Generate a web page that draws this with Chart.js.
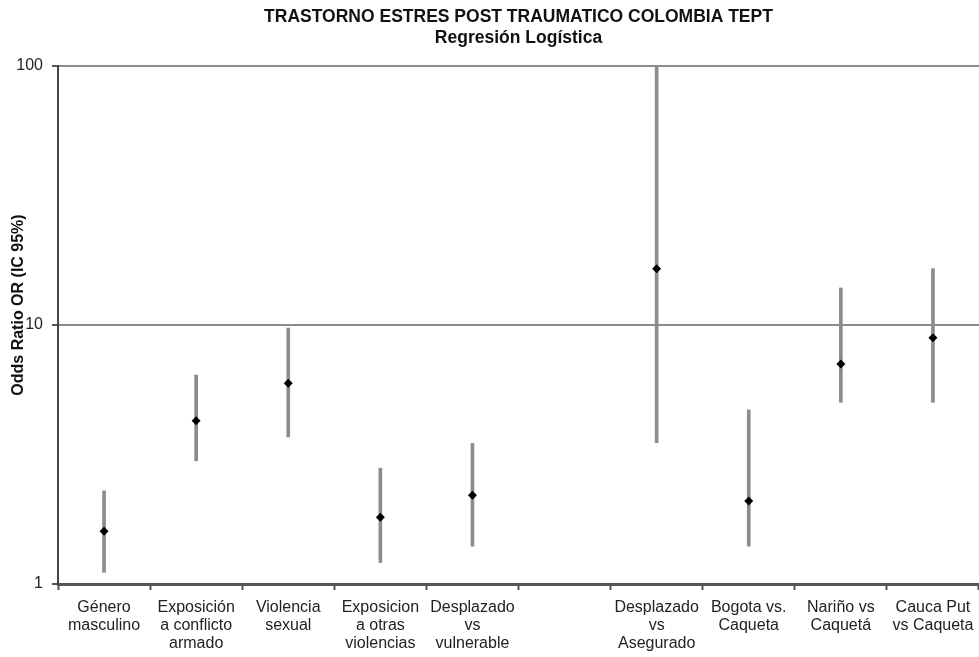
<!DOCTYPE html>
<html>
<head>
<meta charset="utf-8">
<script src="https://cdn.jsdelivr.net/npm/chart.js@4.4.1/dist/chart.umd.min.js"></script>
<style>
  html, body { margin: 0; padding: 0; background: #fff; overflow: hidden; }
  #wrap { width: 979px; height: 657px; }
  canvas { display: block; }
</style>
</head>
<body>
<div id="wrap"><canvas id="c" width="979" height="657"></canvas></div>
<script>
const categories = [
  ["Género", "masculino"],
  ["Exposición", "a conflicto", "armado"],
  ["Violencia", "sexual"],
  ["Exposicion", "a otras", "violencias"],
  ["Desplazado", "vs", "vulnerable"],
  "",
  ["Desplazado", "vs", "Asegurado"],
  ["Bogota vs.", "Caqueta"],
  ["Nariño vs", "Caquetá"],
  ["Cauca Put", "vs Caqueta"]
];
const oddsRatio = [1.60, 4.27, 5.96, 1.81, 2.20, null, 16.5, 2.09, 7.07, 8.93];
const ciLower   = [1.11, 2.99, 3.70, 1.21, 1.40, null, 3.51, 1.40, 5.03, 5.03];
const ciUpper   = [2.29, 6.41, 9.73, 2.80, 3.49, null, 100, 4.70, 13.9, 16.5];
const yTicks = [1, 10, 100];
const yTitle = 'Odds Ratio OR (IC 95%)';

const FONT = "'Liberation Sans', Arial, Helvetica, sans-serif";

const ciRanges = ciLower.map((l, i) => (l == null ? null : [l, ciUpper[i]]));

const yTitlePlugin = {
  id: 'yTitle',
  afterDraw(chart) {
    const { ctx, chartArea } = chart;
    ctx.save();
    ctx.font = 'bold 16px ' + FONT;
    ctx.fillStyle = '#111';
    ctx.textAlign = 'center';
    ctx.textBaseline = 'middle';
    ctx.translate(19, (chartArea.top + chartArea.bottom) / 2 - 20);
    ctx.rotate(-Math.PI / 2);
    ctx.fillText(yTitle, 0, 0);
    ctx.restore();
  }
};

new Chart(document.getElementById('c'), {
  type: 'bar',
  data: {
    labels: categories,
    datasets: [
      {
        type: 'line',
        label: 'OR',
        data: oddsRatio,
        showLine: false,
        pointStyle: 'rectRot',
        pointRadius: 4.5,
        pointBackgroundColor: '#000',
        pointBorderColor: '#000',
        pointBorderWidth: 0,
        order: 0
      },
      {
        type: 'bar',
        label: 'IC 95%',
        data: ciRanges,
        backgroundColor: '#8c8c8c',
        borderWidth: 0,
        barThickness: 3,
        order: 1
      }
    ]
  },
  plugins: [yTitlePlugin],
  options: {
    responsive: false,
    animation: false,
    layout: { autoPadding: false, padding: { left: 0, right: 0, top: 0, bottom: 0 } },
    plugins: {
      legend: { display: false },
      tooltip: { enabled: false },
      title: {
        display: true,
        fullSize: false,
        text: ["TRASTORNO ESTRES POST TRAUMATICO COLOMBIA TEPT", "Regresión Logística"],
        color: '#111',
        font: { family: FONT, size: 17.5, weight: 'bold', lineHeight: 1.2 },
        padding: { top: 7, bottom: 17 }
      }
    },
    scales: {
      x: {
        type: 'category',
        offset: true,
        afterFit: (s) => { s.height = 73; s.paddingRight = 0; s.paddingLeft = 0; },
        grid: {
          display: true,
          drawOnChartArea: false,
          drawTicks: true,
          offset: true,
          tickLength: 6,
          tickColor: '#555',
          tickWidth: 2
        },
        border: { display: true, color: '#555', width: 3 },
        ticks: {
          autoSkip: false,
          maxRotation: 0,
          minRotation: 0,
          padding: 8,
          color: '#222',
          font: { family: FONT, size: 16, lineHeight: 1.15 }
        }
      },
      y: {
        type: 'logarithmic',
        min: 1,
        max: 100,
        afterFit: (s) => { s.width = 58; },
        afterBuildTicks: (s) => { s.ticks = yTicks.map(v => ({ value: v })); },
        grid: {
          color: '#8c8c8c',
          lineWidth: 2,
          tickColor: '#555',
          tickLength: 6,
          tickWidth: 2
        },
        border: { display: true, color: '#444', width: 2 },
        ticks: {
          padding: 9,
          color: '#222',
          font: { family: FONT, size: 16 },
          callback: (v) => String(v)
        },
        title: { display: false }
      }
    }
  }
});
</script>
</body>
</html>
